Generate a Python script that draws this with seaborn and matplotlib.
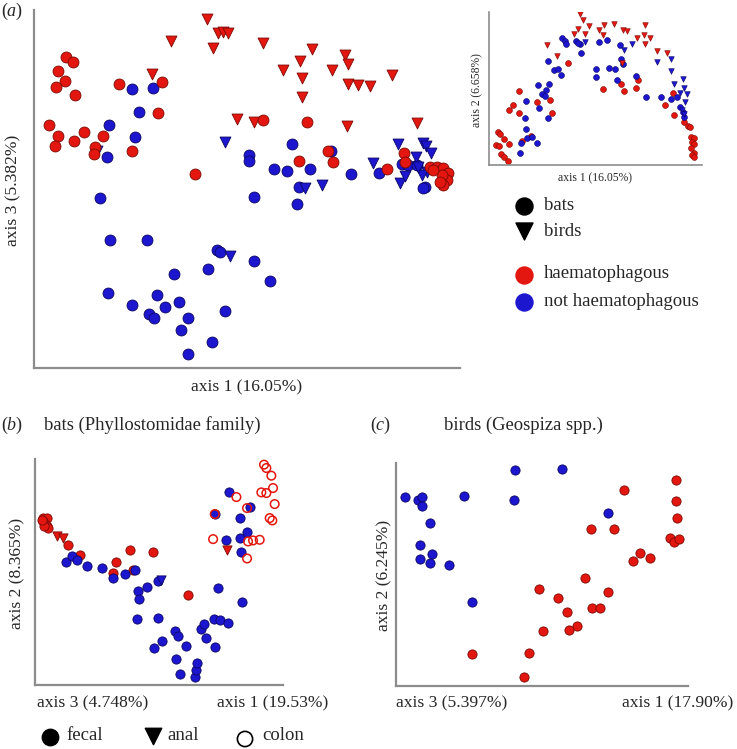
import matplotlib
matplotlib.use("Agg")
import matplotlib.pyplot as plt
import seaborn as sns
import pandas as pd

# ---------------- data (arbitrary ordination units) -------------
# panel (a) main: axis 1 vs axis 3
a_bat_h_x = [95,118,73,93,66,123,256,383,371,46,73,63,120,151,206,183,181,294,483,688,818,795,883,898,1060,1111,1113,1188,1208,1228,1243,1238,1228,1223,1198,1218]
a_bat_h_y = [933,918,893,862,843,820,852,858,765,730,698,668,682,708,698,663,643,652,582,745,740,622,653,620,597,645,620,605,605,600,585,565,550,580,595,560]
a_bat_n_x = [295,358,316,225,303,218,198,228,339,548,558,660,708,523,420,223,295,368,393,435,345,360,461,441,573,535,463,646,646,660,773,720,760,828,795,788,951,1036,891,1103,1123,1148,1173,1168]
a_bat_n_y = [837,840,768,730,693,635,510,385,385,355,348,320,262,297,282,225,190,220,182,199,162,150,150,115,170,77,43,640,622,513,672,598,592,597,545,493,583,587,653,612,610,610,545,540]
a_bird_h_x = [518,553,568,581,411,538,688,833,933,941,798,748,895,803,943,973,1008,1073,353,804,608,660,938,1148]
a_bird_h_y = [1047,1005,1008,1005,983,962,975,957,940,912,922,895,895,870,852,850,848,880,883,815,747,738,727,735]
a_bird_n_x = [573,188,588,813,863,1016,1093,1098,1113,1166,1176,1191,1146,1178,1163,1153]
a_bird_n_y = [680,652,337,542,550,617,672,557,578,675,668,647,635,590,580,605]

# panel (a) inset: axis 1 vs axis 2
i_bat_h_x = [238,90,73,60,90,28,33,20,30,45,60,35,45,58,100,125,145,183,190,341,395,405,445,440,551,526,553,585,595,603,605,613,608,615,605,613,608,613]
i_bat_h_y = [307,223,180,165,155,98,93,60,57,77,63,33,25,13,72,88,188,195,155,230,245,223,255,232,217,180,150,130,117,115,85,80,70,63,50,37,30,25]
i_bat_n_x = [218,228,231,260,273,275,266,328,353,393,395,401,178,196,208,215,321,321,358,378,383,441,471,515,546,563,571,580,585,148,181,171,158,168,111,150,108,111,113,128,145,95,93,178]
i_bat_n_y = [383,373,365,373,365,338,368,370,377,362,320,303,313,287,290,272,290,265,292,290,257,268,203,205,197,203,173,160,145,242,243,225,213,207,192,172,142,108,82,85,67,67,37,140]
i_bird_h_x = [273,281,300,266,256,288,328,343,373,341,401,413,468,443,463,468,483,173,205,398,503,533]
i_bird_h_y = [453,437,418,408,393,393,405,422,425,390,405,403,420,383,390,365,383,360,328,308,343,337]
i_bird_n_x = [288,428,403,503,545,545,553,580,583,571,593,588,578,583]
i_bird_n_y = [370,363,347,310,320,283,245,260,233,217,213,190,165,152]

# panel (b): bats
b_fecal_h_x = [25,35,23,30,35,40,27,20,100,135,285,355,243,235,295,460]
b_fecal_h_y = [500,500,490,483,475,470,477,495,420,390,405,397,367,337,345,270]
b_fecal_n_x = [93,110,125,157,200,233,270,300,308,337,370,313,305,370,420,430,383,357,453,425,437,480,485,487,550,623,500,515,507,537,555,580,540,583,617,647,540,575,617,637,620]
b_fecal_n_y = [367,387,375,355,350,320,333,345,283,295,312,257,197,200,162,147,133,110,118,78,32,23,45,65,292,248,167,142,183,199,195,187,115,577,500,533,512,435,440,457,399]
b_anal_h_x = [65,85,578]
b_anal_h_y = [445,440,405]
b_anal_n_x = [380]
b_anal_n_y = [315]
b_colon_h_x = [688,695,710,715,680,695,720,705,713,605,637,535,640,655,675,637,540]
b_colon_h_y = [660,650,627,590,577,575,542,500,493,563,530,437,430,433,435,379,512]

# panel (c): birds
c_n_x = [28,65,78,78,103,73,108,73,101,160,205,358,500,356,638,230]
c_n_y = [565,557,565,539,489,422,395,379,367,362,567,647,649,555,517,252]
c_h_x = [841,685,843,846,823,835,850,585,656,733,713,763,568,430,486,638,515,590,613,543,521,442,399,228,385]
c_h_y = [617,587,552,502,444,430,439,470,470,399,375,382,322,289,264,280,222,232,232,180,167,164,100,97,27]

# labels
a_xlabel = "axis 1 (16.05%)"
a_ylabel = "axis 3 (5.382%)"
i_xlabel = "axis 1 (16.05%)"
i_ylabel = "axis 2 (6.658%)"
b_title = "bats (Phyllostomidae family)"
b_xlabels = ["axis 3 (4.748%)", "axis 1 (19.53%)"]
b_ylabel = "axis 2 (8.365%)"
c_title = "birds (Geospiza spp.)"
c_xlabels = ["axis 3 (5.397%)", "axis 1 (17.90%)"]
c_ylabel = "axis 2 (6.245%)"
legend_a = ["bats", "birds", "haematophagous", "not haematophagous"]
legend_b = ["fecal", "anal", "colon"]

# ---------------- style -------------
sns.set_theme(style="white")
plt.rcParams["font.family"] = ["Liberation Serif", "DejaVu Serif"]
plt.rcParams["mathtext.fontset"] = "custom"
plt.rcParams["mathtext.rm"] = "Liberation Serif"
plt.rcParams["mathtext.it"] = "Liberation Serif:italic"

RED, RED_E = "#e3170f", "#7c0a05"
BLUE, BLUE_E = "#1d16cf", "#0a0663"
SPINE = "#8c8c8c"

W, H = 737, 749
fig = plt.figure(figsize=(W / 100, H / 100), dpi=100)


def add_ax(x0, y0, x1, y1):
    ax = fig.add_axes([x0 / W, 1 - y1 / H, (x1 - x0) / W, (y1 - y0) / H])
    for s in ["top", "right"]:
        ax.spines[s].set_visible(False)
    for s in ["left", "bottom"]:
        ax.spines[s].set_color(SPINE)
        ax.spines[s].set_linewidth(1.6)
    ax.set_xticks([])
    ax.set_yticks([])
    ax.set_xlabel("")
    ax.set_ylabel("")
    ax.patch.set_alpha(0)
    return ax


def pts(ax, x, y, marker, fc, ec, s, lw=0.6, z=2):
    df = pd.DataFrame({"x": x, "y": y})
    sns.scatterplot(data=df, x="x", y="y", marker=marker, color=fc, edgecolor=ec,
                    s=s, linewidth=lw, ax=ax, zorder=z, legend=False)
    ax.set_xlabel("")
    ax.set_ylabel("")


# ---- panel a main
ax_a = add_ax(34, 10, 460, 368)
pts(ax_a, a_bird_h_x, a_bird_h_y, "v", RED, RED_E, 62)
pts(ax_a, a_bat_n_x, a_bat_n_y, "o", BLUE, BLUE_E, 62)
pts(ax_a, a_bird_n_x, a_bird_n_y, "v", BLUE, BLUE_E, 62)
pts(ax_a, a_bat_h_x, a_bat_h_y, "o", RED, RED_E, 62)
ax_a.set_xlim(0, 1278)
ax_a.set_ylim(0, 1075)

# ---- inset
ax_i = add_ax(489, 12, 702, 165)
ax_i.spines["left"].set_linewidth(1.2)
ax_i.spines["bottom"].set_linewidth(1.2)
pts(ax_i, i_bat_h_x, i_bat_h_y, "o", RED, RED_E, 18, 0.4)
pts(ax_i, i_bat_n_x, i_bat_n_y, "o", BLUE, BLUE_E, 18, 0.4)
pts(ax_i, i_bird_h_x, i_bird_h_y, "v", RED, RED_E, 16, 0.4)
pts(ax_i, i_bird_n_x, i_bird_n_y, "v", BLUE, BLUE_E, 16, 0.4)
ax_i.set_xlim(0, 638)
ax_i.set_ylim(0, 460)

# ---- panel b
ax_b = add_ax(35, 459, 283, 685)
pts(ax_b, b_fecal_h_x, b_fecal_h_y, "o", RED, RED_E, 44)
pts(ax_b, b_fecal_n_x, b_fecal_n_y, "o", BLUE, BLUE_E, 44)
pts(ax_b, b_anal_h_x, b_anal_h_y, "v", RED, RED_E, 44)
pts(ax_b, b_anal_n_x, b_anal_n_y, "v", BLUE, BLUE_E, 44)
ax_b.scatter(b_colon_h_x, b_colon_h_y, s=38, marker="o", facecolors="none",
             edgecolors=RED, linewidths=1.1, zorder=3)
ax_b.set_xlim(0, 745)
ax_b.set_ylim(0, 677)

# ---- panel c
ax_c = add_ax(396, 463, 688, 686)
pts(ax_c, c_n_x, c_n_y, "o", BLUE, BLUE_E, 44)
pts(ax_c, c_h_x, c_h_y, "o", RED, RED_E, 44)
ax_c.set_xlim(0, 878)
ax_c.set_ylim(0, 667)

# ---- overlay for labels / legends (pixel coordinates)
ov = fig.add_axes([0, 0, 1, 1])
ov.set_xlim(0, W)
ov.set_ylim(H, 0)
ov.axis("off")

FS = 12.6
ov.text(1, 11, r"($\mathit{a}$)", fontsize=13, va="center", ha="left")
ov.text(247, 387, a_xlabel, fontsize=FS, ha="center", va="center")
ov.text(13, 190, a_ylabel, fontsize=FS, ha="center", va="center", rotation=90)
ov.text(595, 178, i_xlabel, fontsize=8.4, ha="center", va="center")
ov.text(477, 90, i_ylabel, fontsize=8.4, ha="center", va="center", rotation=90)

# legend a
ov.scatter([524], [206], s=150, marker="o", color="black", zorder=5)
ov.scatter([524], [231], s=150, marker="v", color="black", zorder=5)
ov.scatter([524], [275], s=150, marker="o", color=RED, zorder=5)
ov.scatter([524], [302], s=150, marker="o", color=BLUE, zorder=5)
for t, yy in zip(legend_a, [206, 231, 273, 301]):
    ov.text(544, yy, t, fontsize=13.5, ha="left", va="center")

# panel b texts
ov.text(1, 425, r"($\mathit{b}$)", fontsize=13, ha="left", va="center")
ov.text(44, 425, b_title, fontsize=13.4, ha="left", va="center")
ov.text(37, 703, b_xlabels[0], fontsize=FS, ha="left", va="center")
ov.text(328, 703, b_xlabels[1], fontsize=FS, ha="right", va="center")
ov.text(17, 573, b_ylabel, fontsize=FS, ha="center", va="center", rotation=90)

ov.scatter([50], [737], s=140, marker="o", color="black", zorder=5)
ov.scatter([153], [736], s=140, marker="v", color="black", zorder=5)
ov.scatter([245], [739], s=120, marker="o", facecolors="none", edgecolors="black",
           linewidths=1.2, zorder=5)
for t, xx in zip(legend_b, [66, 167, 262]):
    ov.text(xx, 736, t, fontsize=13.5, ha="left", va="center")

# panel c texts
ov.text(370, 425, r"($\mathit{c}$)", fontsize=13, ha="left", va="center")
ov.text(444, 425, c_title, fontsize=13.4, ha="left", va="center")
ov.text(396, 703, c_xlabels[0], fontsize=FS, ha="left", va="center")
ov.text(733, 703, c_xlabels[1], fontsize=FS, ha="right", va="center")
ov.text(384, 575, c_ylabel, fontsize=FS, ha="center", va="center", rotation=90)

fig.savefig("out.png", dpi=100, facecolor="white")
